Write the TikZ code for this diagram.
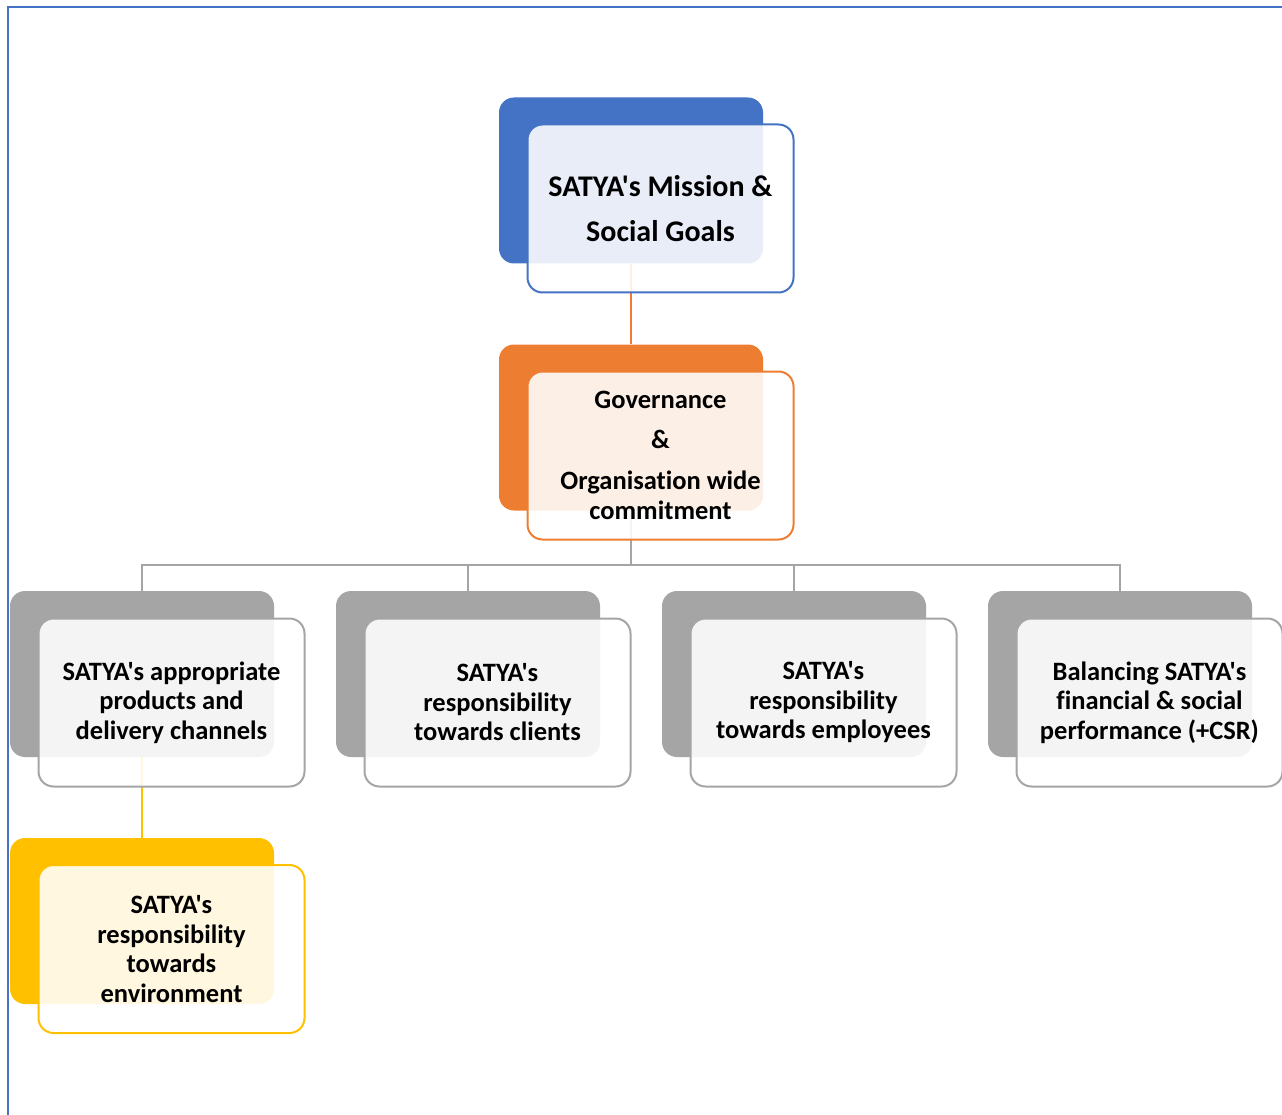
\documentclass[tikz,border=0pt]{standalone}
\usepackage{fontspec}
\newfontfamily\calfont{Carlito}[Ligatures=NoCommon]
\definecolor{cblue}{HTML}{4472C4}
\definecolor{corange}{HTML}{ED7D31}
\definecolor{cgray}{HTML}{A5A5A5}
\definecolor{cyellow}{HTML}{FFC000}
\tikzset{
  backbox/.style={rounded corners=15pt, minimum width=264pt, minimum height=166pt, inner sep=0pt},
  frontbox/.style={draw, line width=2pt, rounded corners=15pt, fill=white, fill opacity=0.88, text opacity=1,
     minimum width=266pt, minimum height=168pt, inner sep=0pt, align=center, font=\calfont\bfseries\fontsize{26.5}{29.5}\selectfont},
  conn/.style={line width=2.2pt},
}
\begin{document}
\begin{tikzpicture}[x=1pt,y=-1pt]
\useasboundingbox (0,0) rectangle (1282,1115);
\fill[white] (0,0) rectangle (1282,1115);
% frame
\draw[cblue, line width=2.5pt] (8,1115) -- (8,7) -- (1282,7);
% back boxes
\node[backbox, fill=cblue] (b0) at (631,180.5) {};
\node[backbox, fill=corange] (b1) at (631,427.5) {};
\node[backbox, fill=cgray] (b2) at (142,674) {};
\node[backbox, fill=cgray] (b3) at (468,674) {};
\node[backbox, fill=cgray] (b4) at (794,674) {};
\node[backbox, fill=cgray] (b5) at (1120,674) {};
\node[backbox, fill=cyellow] (b6) at (142,921) {};
% connectors
\draw[conn, corange] (b0.south) -- (b1.north);
\coordinate (hub) at (631,565);
\draw[conn, cgray] (b1.south) -- (hub);
\foreach \n in {b2,b3,b4,b5}{
  \draw[conn, cgray] (hub) -| (\n.north);
}
\draw[conn, cyellow] (b2.south) -- (b6.north);
% front boxes
\node[frontbox, draw=cblue, font=\calfont\bfseries\fontsize{30}{45}\selectfont] (f0) at (660.5,208.5) {SATYA's Mission \&\\Social Goals};
\node[frontbox, draw=corange, font=\calfont\bfseries\fontsize{26.5}{30}\selectfont] (f1) at (660.5,455.5) {Governance\\[10pt]\&\\[11pt]Organisation wide\\commitment};
\node[frontbox, draw=cgray] (f2) at (171.5,702.5) {SATYA's appropriate\\products and\\delivery channels};
\node[frontbox, draw=cgray] (f3) at (497.5,702.5) {SATYA's\\responsibility\\towards clients};
\node[frontbox, draw=cgray] (f4) at (823.5,702.5) {SATYA's\\responsibility\\towards employees};
\node[frontbox, draw=cgray] (f5) at (1149.5,702.5) {Balancing SATYA's\\financial \& social\\performance (+CSR)};
\node[frontbox, draw=cyellow] (f6) at (171.5,949) {SATYA's\\responsibility\\towards\\environment};
\end{tikzpicture}
\end{document}
